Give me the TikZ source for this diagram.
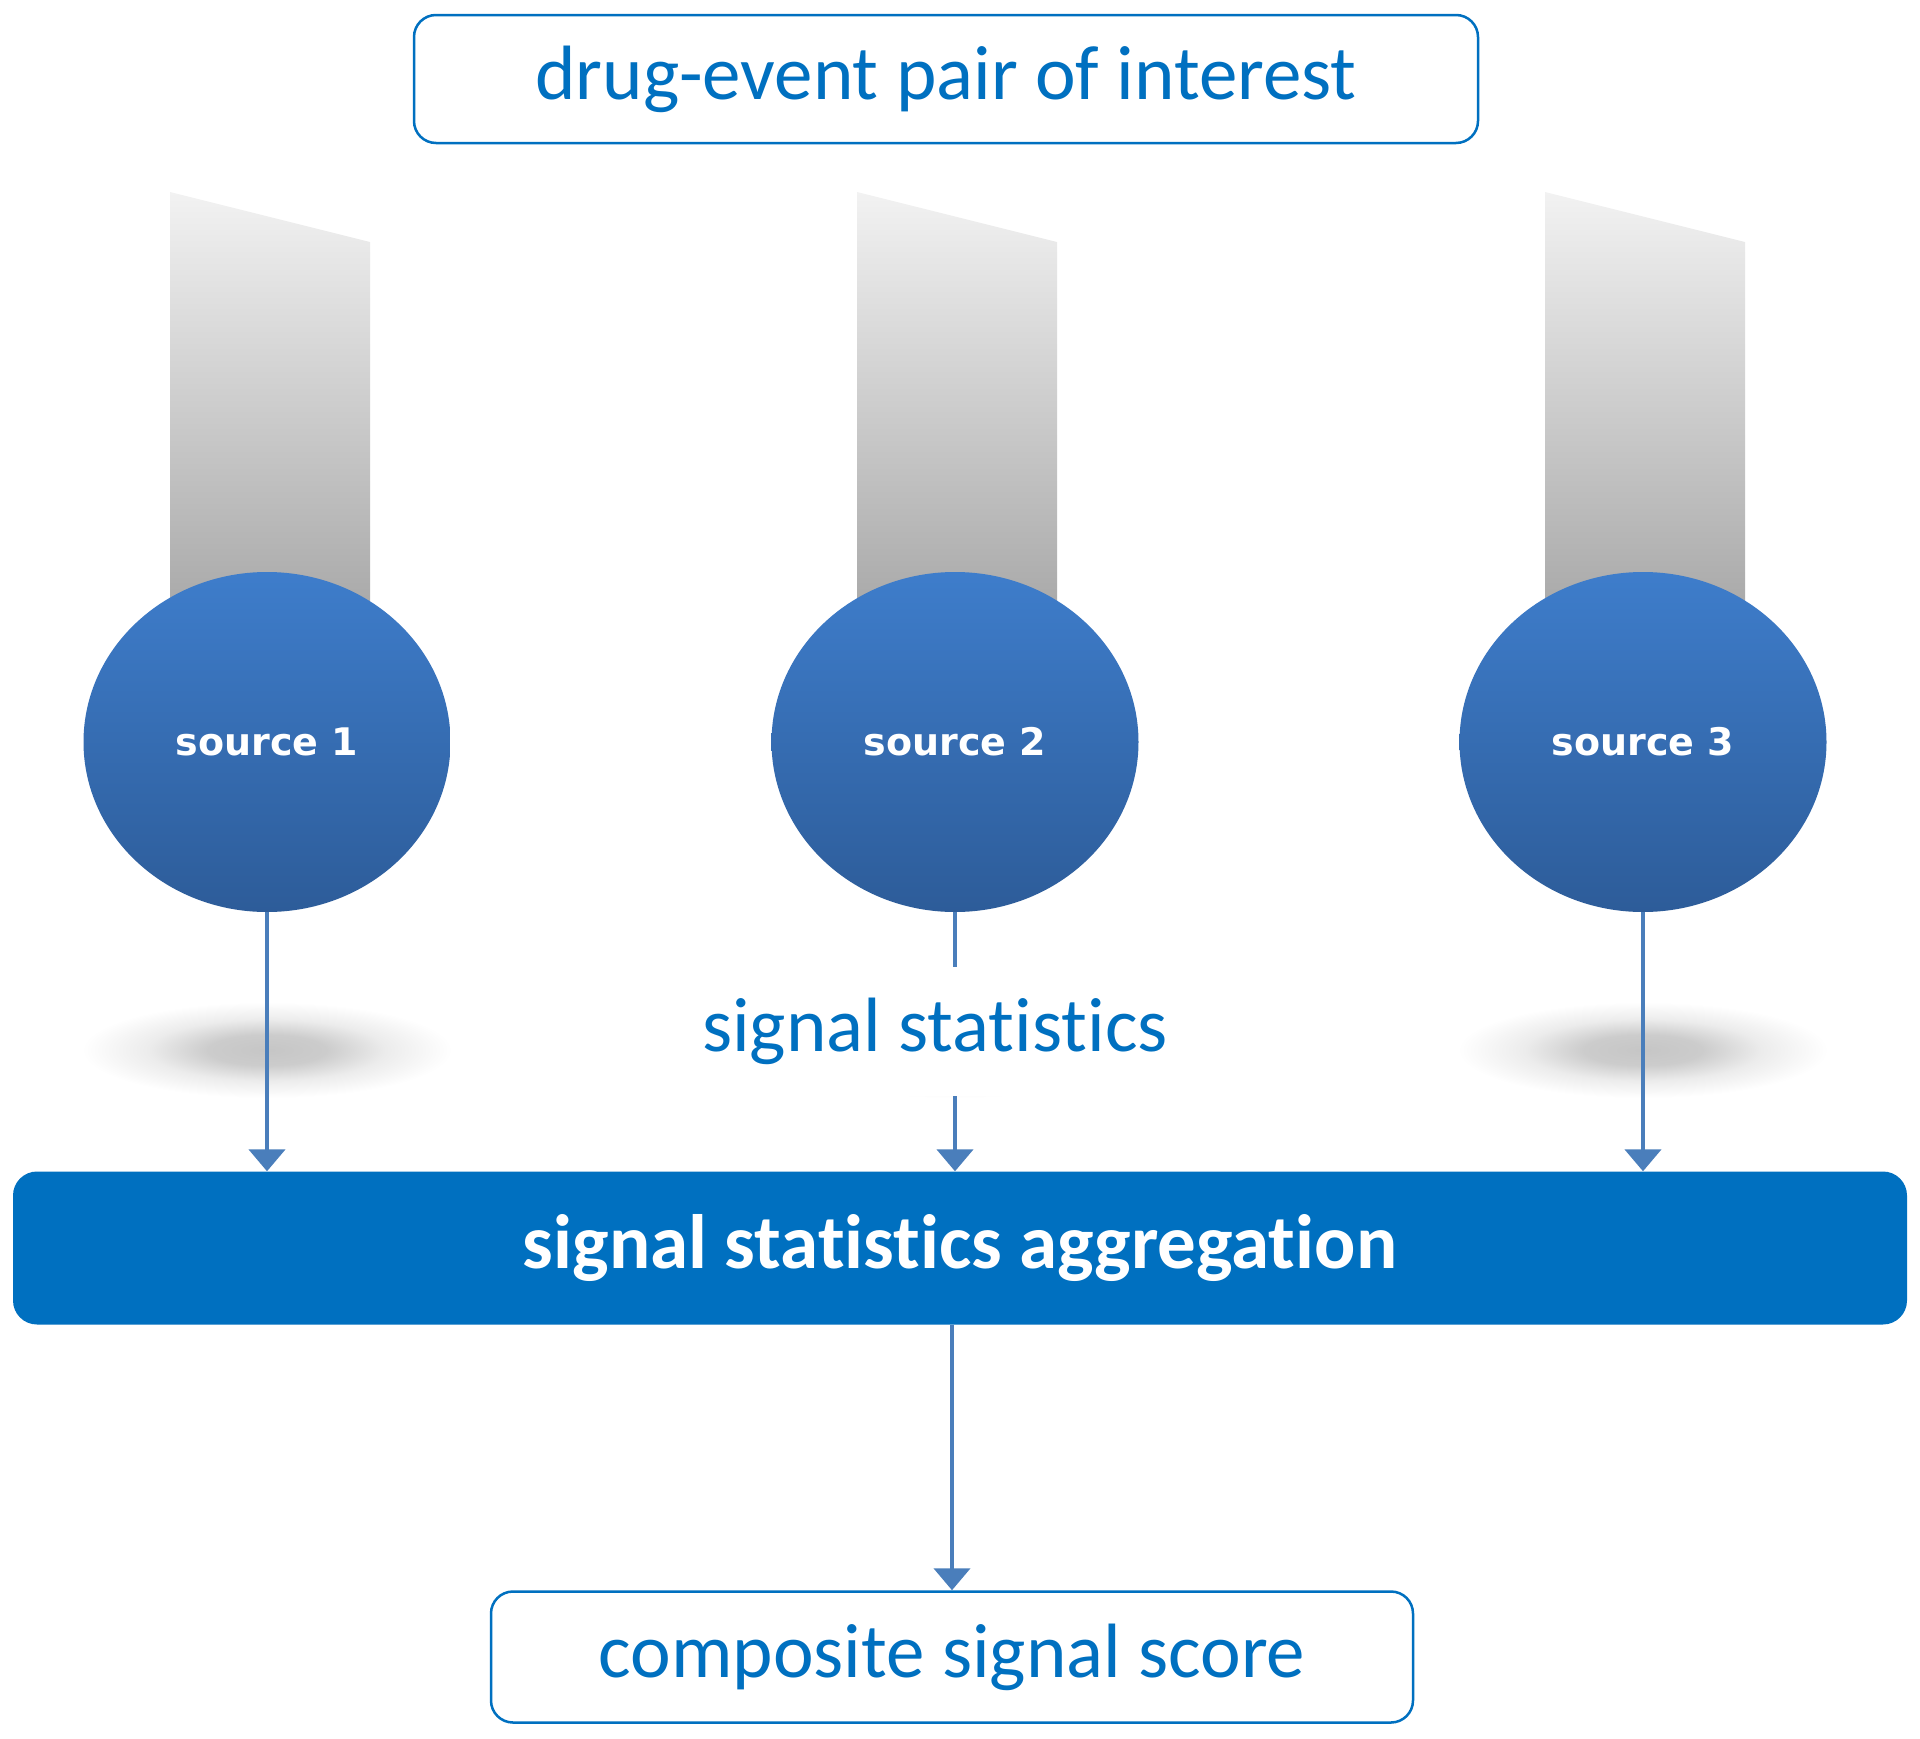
\documentclass[tikz,border=0pt]{standalone}
\usepackage{fontspec}
\setmainfont[Ligatures={NoCommon,NoContextual}]{Carlito}
\newfontfamily\srcfont{DejaVu Sans}
\usetikzlibrary{arrows.meta,shapes.geometric}
\definecolor{tblue}{HTML}{0070C0}
\definecolor{arrowblue}{HTML}{4A7EBB}
\definecolor{ctop}{HTML}{3E7DCB}
\definecolor{cbot}{HTML}{2D5C99}
\definecolor{ftop}{HTML}{F2F2F2}
\definecolor{fbot}{HTML}{A0A0A0}
\pgfdeclareradialshading{softshadow}{\pgfpoint{0bp}{0bp}}{%
  color(0bp)=(gray!45); color(8bp)=(gray!40); color(16bp)=(gray!15); color(25bp)=(white); color(50bp)=(white)}
\begin{document}
\begin{tikzpicture}[x=1pt,y=-1pt,
  outbox/.style={draw=tblue, line width=2.5pt, rounded corners=22pt, fill=white,
    text=tblue, font=\fontsize{77}{90}\selectfont, inner sep=0pt},
  srcnode/.style={ellipse, minimum width=367pt, minimum height=340pt, inner sep=0pt,
    top color=ctop, bottom color=cbot, text=white, font=\srcfont\bfseries\fontsize{38}{42}\selectfont},
  funnel/.style={top color=ftop, bottom color=fbot},
  shadowblob/.style={shading=softshadow},
  arr/.style={draw=arrowblue, line width=4.5pt, -{Triangle[width=36pt,length=22pt]}},
  bar/.style={fill=tblue, rounded corners=24pt, text=white, inner sep=0pt,
    font=\bfseries\fontsize{77}{90}\selectfont},
  lbl/.style={fill=white, text=tblue, font=\fontsize{77}{90}\selectfont, inner sep=0pt}
]
\useasboundingbox (0,0) rectangle (1920,1738);
\fill[white] (0,0) rectangle (1920,1738);

% funnels
\shade[funnel] (170,192) -- (370,242) -- (370,660) -- (170,660) -- cycle;
\shade[funnel] (857,192) -- (1057,242) -- (1057,660) -- (857,660) -- cycle;
\shade[funnel] (1545,192) -- (1745,242) -- (1745,660) -- (1545,660) -- cycle;

% shadows
\shade[shadowblob] (267,1050) ellipse [x radius=185, y radius=48];
\shade[shadowblob] (955,1050) ellipse [x radius=185, y radius=48];
\shade[shadowblob] (1643,1050) ellipse [x radius=185, y radius=48];

\node[outbox, minimum width=1064pt, minimum height=128pt] (top) at (946,79) {drug-event pair of interest};

\node[srcnode] (s1) at (267,742) {source 1};
\node[srcnode] (s2) at (955,742) {source 2};
\node[srcnode] (s3) at (1643,742) {source 3};

\node[bar, minimum width=1894pt, minimum height=153pt] (agg) at (960,1248) {signal statistics aggregation};

\node[outbox, minimum width=922pt, minimum height=131pt] (out) at (952,1657) {composite signal score};

\draw[arr] (s1.south) -- (s1.south |- agg.north);
\draw[arr] (s2.south) -- (s2.south |- agg.north);
\draw[arr] (s3.south) -- (s3.south |- agg.north);
\draw[arr] (out.north |- agg.south) -- (out.north);

\node[lbl, minimum width=480pt, minimum height=129pt] (sig) at (935,1031) {signal statistics};
\end{tikzpicture}
\end{document}
